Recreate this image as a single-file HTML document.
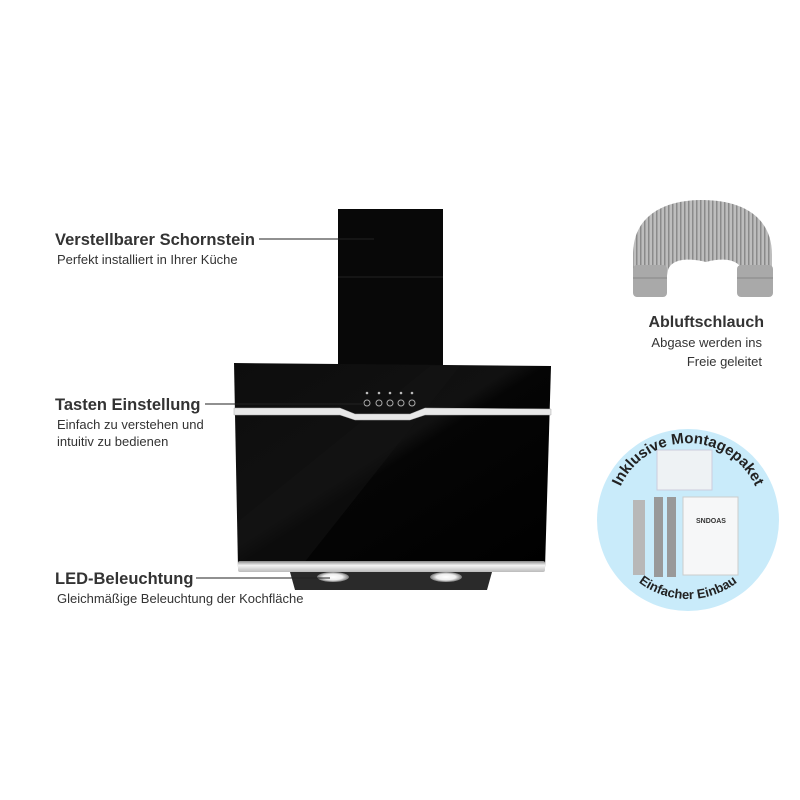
<!DOCTYPE html>
<html><head><meta charset="utf-8"><style>
body{margin:0;background:#fff;}
svg{display:block;font-family:"Liberation Sans",Arial,sans-serif;}
</style></head><body>
<svg width="800" height="800" viewBox="0 0 800 800" xmlns="http://www.w3.org/2000/svg">
<defs>
<linearGradient id="glass" x1="0" y1="0" x2="1" y2="1">
<stop offset="0" stop-color="#0d0d0d"/><stop offset="0.45" stop-color="#111"/><stop offset="0.5" stop-color="#050505"/><stop offset="1" stop-color="#000"/>
</linearGradient>
<linearGradient id="silver" x1="0" y1="0" x2="0" y2="1">
<stop offset="0" stop-color="#888"/><stop offset="0.4" stop-color="#f4f4f4"/><stop offset="1" stop-color="#bbb"/>
</linearGradient>
<pattern id="rib" width="4" height="6" patternUnits="userSpaceOnUse">
<rect width="4" height="6" fill="#bdbdbd"/><rect width="1.5" height="6" fill="#8a8a8a"/>
</pattern>
<radialGradient id="led"><stop offset="0" stop-color="#fff"/><stop offset="0.6" stop-color="#eee"/><stop offset="1" stop-color="#777"/></radialGradient>
</defs>

<rect x="338" y="209" width="105" height="157" fill="#080808"/>
<line x1="338" y1="277" x2="443" y2="277" stroke="#222" stroke-width="1"/>
<polygon points="234,363 551,366 545,568 238,568" fill="url(#glass)"/>
<polygon points="430,366 460,366 300,568 240,568 240,520" fill="#141414" opacity="0.5"/>
<path d="M234,408 L340,408 L355,414 L410,414 L425,408 L551,409 L551,415 L425,415 L410,420 L355,420 L340,415 L234,415 Z" fill="#e8e8e8" stroke="#aaa" stroke-width="0.5"/>
<g fill="none" stroke="#aaa" stroke-width="1">
<circle cx="367" cy="403" r="3"/><circle cx="379" cy="403" r="3"/><circle cx="390" cy="403" r="3"/><circle cx="401" cy="403" r="3"/><circle cx="412" cy="403" r="3"/>
</g>
<g fill="#bbb"><circle cx="367" cy="393" r="1.3"/><circle cx="379" cy="393" r="1.3"/><circle cx="390" cy="393" r="1.3"/><circle cx="401" cy="393" r="1.3"/><circle cx="412" cy="393" r="1.3"/></g>
<rect x="238" y="561" width="307" height="11" rx="2" fill="url(#silver)"/>
<polygon points="290,572 492,572 487,590 295,590" fill="#2a2a2a"/>
<ellipse cx="333" cy="577" rx="16" ry="5" fill="url(#led)"/>
<ellipse cx="446" cy="577" rx="16" ry="5" fill="url(#led)"/>

<g stroke="#222" stroke-width="1">
<line x1="259" y1="239" x2="374" y2="239"/>
<line x1="205" y1="404" x2="364" y2="404"/>
<line x1="196" y1="578" x2="330" y2="578"/>
</g>

<g fill="#333">
<text x="55" y="245" font-size="16.5" font-weight="bold">Verstellbarer Schornstein</text>
<text x="57" y="264" font-size="13">Perfekt installiert in Ihrer Küche</text>
<text x="55" y="410" font-size="16.5" font-weight="bold">Tasten Einstellung</text>
<text x="57" y="429" font-size="13">Einfach zu verstehen und</text>
<text x="57" y="446" font-size="13">intuitiv zu bedienen</text>
<text x="55" y="584" font-size="16.5" font-weight="bold">LED-Beleuchtung</text>
<text x="57" y="603" font-size="13">Gleichmäßige Beleuchtung der Kochfläche</text>
<text x="764" y="327" font-size="16" font-weight="bold" text-anchor="end">Abluftschlauch</text>
<text x="762" y="347" font-size="13" text-anchor="end">Abgase werden ins</text>
<text x="762" y="366" font-size="13" text-anchor="end">Freie geleitet</text>
</g>

<path d="M633,290 L633,255 C633,215 665,200 702,200 C740,200 772,215 772,255 L772,290 L745,293 L742,270 C738,258 720,258 706,262 C690,258 672,258 668,270 L664,293 Z" fill="url(#rib)"/>
<rect x="633" y="265" width="34" height="32" rx="4" fill="#a9a9a9"/>
<rect x="737" y="265" width="36" height="32" rx="4" fill="#a9a9a9"/>
<g stroke="#888" stroke-width="1"><line x1="633" y1="278" x2="667" y2="278"/><line x1="737" y1="278" x2="773" y2="278"/></g>

<circle cx="688" cy="520" r="91" fill="#c9ebfa"/>
<rect x="657" y="450" width="55" height="40" fill="#eef2f4" stroke="#ccd" stroke-width="1"/>
<rect x="633" y="500" width="12" height="75" fill="#b8b8b8"/>
<rect x="654" y="497" width="9" height="80" fill="#999"/>
<rect x="667" y="497" width="9" height="80" fill="#999"/>
<rect x="683" y="497" width="55" height="78" fill="#f6f7f8" stroke="#ccc" stroke-width="1"/>
<text x="711" y="523" font-size="7" font-weight="bold" text-anchor="middle" fill="#333">SNDOAS</text>
<path id="arcTop" d="M615,505 A74,74 0 0 1 761,505" fill="none"/>
<text font-size="15" font-weight="bold" fill="#222"><textPath href="#arcTop" startOffset="50%" text-anchor="middle">Inklusive Montagepaket</textPath></text>
<path id="arcBot" d="M614,551 A81,81 0 0 0 762,551" fill="none"/>
<text font-size="13" font-weight="bold" fill="#222"><textPath href="#arcBot" startOffset="50%" text-anchor="middle">Einfacher Einbau</textPath></text>
</svg>
</body></html>
